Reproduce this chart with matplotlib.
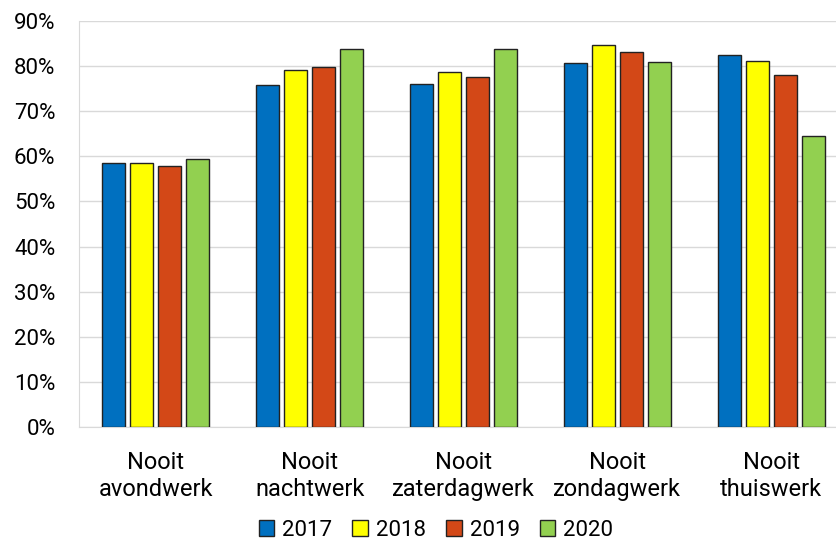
import numpy as np
import matplotlib.pyplot as plt

plt.rcParams['font.family'] = ['Roboto', 'DejaVu Sans']

categories = ['Nooit\navondwerk', 'Nooit\nnachtwerk', 'Nooit\nzaterdagwerk',
              'Nooit\nzondagwerk', 'Nooit\nthuiswerk']
years = ['2017', '2018', '2019', '2020']
v2017 = [58.5, 75.8, 76.0, 80.6, 82.5]
v2018 = [58.5, 79.1, 78.8, 84.6, 81.1]
v2019 = [57.9, 79.8, 77.5, 83.1, 78.1]
v2020 = [59.4, 83.7, 83.7, 81.0, 64.5]
colors = ['#0070C0', '#FFFF00', '#D34817', '#92D050']

fig = plt.figure(figsize=(8.36, 5.45), dpi=100)
ax = fig.add_axes([79 / 836, 1 - 427 / 545, 769 / 836, 406 / 545])

x = np.arange(len(categories))
step = 0.182
width = 0.15
for i, (vals, c, y) in enumerate(zip([v2017, v2018, v2019, v2020], colors, years)):
    ax.bar(x + (i - 1.5) * step, vals, width, color=c, edgecolor='#222222',
           linewidth=1, label=y, zorder=3)

ax.set_xlim(-0.5, 4.5)
ax.set_ylim(0, 90)
ax.set_yticks(range(0, 91, 10))
ax.set_yticklabels([f'{t}%' for t in range(0, 91, 10)])
ax.set_xticks(x)
ax.set_xticklabels(categories)
ax.grid(axis='y', color='#D9D9D9', linewidth=1, zorder=0)
for s in ['top', 'right']:
    ax.spines[s].set_visible(False)
ax.spines['left'].set_color('#D9D9D9')
ax.spines['bottom'].set_color('#D9D9D9')
ax.tick_params(length=0, labelsize=16, colors='black')
ax.tick_params(axis='y', pad=17)
ax.tick_params(axis='x', pad=17, labelsize=17)
for lab in ax.get_xticklabels():
    lab.set_linespacing(1.25)

fig.legend(loc='center', bbox_to_anchor=(436 / 836, 1 - 530 / 545), ncol=4,
           frameon=False, fontsize=16, handlelength=0.7, handleheight=0.7,
           handletextpad=0.36, columnspacing=0.9, borderaxespad=0)

fig.savefig('out.png', dpi=100)
